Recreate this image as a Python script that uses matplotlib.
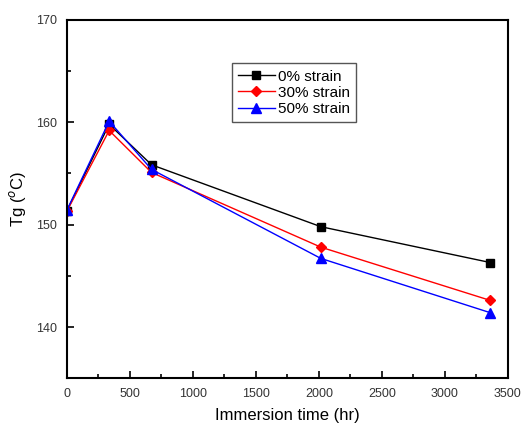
import matplotlib.pyplot as plt
from matplotlib.ticker import MultipleLocator

plt.rcParams['font.family'] = ['Liberation Sans', 'DejaVu Sans']

# Immersion time (hr) and Tg values
hours = [0, 336, 672, 2016, 3360]
tg_0 = [151.35, 159.8, 155.85, 149.8, 146.3]
tg_30 = [151.3, 159.2, 155.1, 147.8, 142.6]
tg_50 = [151.4, 160.1, 155.4, 146.7, 141.4]
labels = ["0% strain", "30% strain", "50% strain"]

fig = plt.figure(figsize=(5.22, 4.24), dpi=100)
ax = fig.add_axes([0.128, 0.108, 0.845, 0.845])

ax.plot(hours, tg_0, color="black", marker="s", markersize=5.5, linewidth=1, label=labels[0])
ax.plot(hours, tg_30, color="red", marker="D", markersize=5, linewidth=1, label=labels[1])
ax.plot(hours, tg_50, color="blue", marker="^", markersize=6.5, linewidth=1, label=labels[2])

ax.set_xlim(0, 3500)
ax.set_ylim(135, 170)
ax.xaxis.set_major_locator(MultipleLocator(500))
ax.xaxis.set_minor_locator(MultipleLocator(250))
ax.yaxis.set_major_locator(MultipleLocator(10))
ax.yaxis.set_minor_locator(MultipleLocator(5))
ax.tick_params(which="both", direction="in", top=False, right=False, labelsize=9,
               labelcolor="#333333", width=1.2)
ax.tick_params(which="major", length=5, pad=7)
ax.tick_params(which="minor", length=3)
for s in ax.spines.values():
    s.set_linewidth(1.5)

ax.set_xlabel("Immersion time (hr)", fontsize=12, labelpad=6)
ax.set_ylabel("Tg ($^o$C)", fontsize=12, labelpad=6)

leg = ax.legend(loc="upper left", bbox_to_anchor=(0.357, 0.9), fontsize=11, fancybox=False,
                handlelength=2.4, handletextpad=0.2, borderpad=0.4, labelspacing=0.15,
                framealpha=1)
leg.get_frame().set_edgecolor("#555555")
leg.get_frame().set_linewidth(1)

fig.savefig("out.png", dpi=100)
